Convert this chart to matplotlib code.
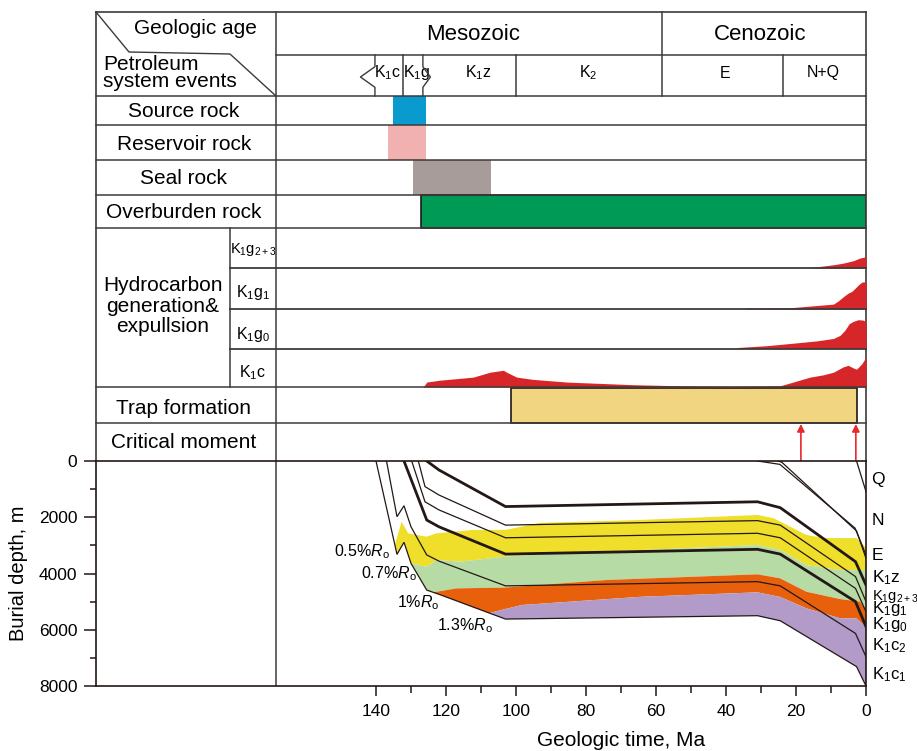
import numpy as np
import matplotlib
matplotlib.use("Agg")
import matplotlib.pyplot as plt

plt.rcParams["font.family"] = ["Liberation Sans", "DejaVu Sans"]
plt.rcParams["mathtext.fontset"] = "custom"
plt.rcParams["mathtext.rm"] = "Liberation Sans"
plt.rcParams["mathtext.it"] = "Liberation Sans:italic"
plt.rcParams["mathtext.default"] = "regular"

# ---------------- data ----------------
# era / stage boundaries (Ma)
eras = ["Mesozoic", "Cenozoic"]
era_bounds = [168.6, 58.3, 0]
stage_names = ["K$_1$c", "K$_1$g", "K$_1$z", "K$_2$", "E", "N+Q"]
stage_label_t = [136.6, 128.3, 110.7, 79.4, 40.3, 12.3]
stage_bounds = [140.3, 132.4, 126.6, 100.0, 58.3, 23.8]

# petroleum system elements (start Ma, end Ma)
source_rock = (135.1, 125.7)
reservoir_rock = (136.7, 125.7)
seal_rock = (129.5, 107.1)
overburden_rock = (127.1, 0.0)
trap_formation = (101.4, 2.5)
critical_moments = [18.6, 2.9]

# hydrocarbon generation & expulsion (fraction of row height)
gen_k1g23_t = [16, 13.1, 9.4, 6.6, 3.7, 1.7, 0]
gen_k1g23_v = [0, 0.04, 0.08, 0.12, 0.18, 0.25, 0.28]
gen_k1g1_t = [34.6, 21.7, 9.3, 7.9, 6.5, 5.1, 4.1, 3.1, 2.2, 1.2, 0]
gen_k1g1_v = [0.02, 0.03, 0.12, 0.2, 0.3, 0.39, 0.43, 0.51, 0.59, 0.66, 0.67]
gen_k1g0_t = [36.7, 28.4, 21.7, 14.1, 9.3, 7.4, 6.0, 4.8, 3.6, 2.2, 0.8, 0]
gen_k1g0_v = [0.025, 0.07, 0.125, 0.19, 0.25, 0.33, 0.46, 0.62, 0.68, 0.72, 0.71, 0.67]
gen_k1c_t = [126.5, 125.5, 121.7, 116.9, 112.2, 107.4, 103.6, 102.7, 99.8, 95.1, 85.5,
             66.5, 52.2, 38, 24.6, 20.8, 16, 12.2, 9.3, 6.5, 5.1, 3.6, 2.7, 1.2, 0]
gen_k1c_v = [0, 0.13, 0.18, 0.22, 0.26, 0.39, 0.44, 0.39, 0.26, 0.2, 0.13,
             0.06, 0.03, 0.02, 0.03, 0.13, 0.26, 0.32, 0.39, 0.53, 0.57, 0.5, 0.47, 0.61, 0.79]

# burial history surfaces (Ma, m)
k1c1_t = [140, 134, 132, 130, 125.5, 122, 103, 31, 24.5, 2.7, 0]
k1c1_d = [0, 3320, 2890, 3640, 4590, 4740, 5620, 5500, 5680, 7310, 8000]
k1c2_t = [137, 134, 132, 130, 125.5, 122, 103, 31, 24.5, 3, 0]
k1c2_d = [0, 1980, 1590, 2340, 3340, 3560, 4440, 4290, 4440, 6130, 6960]
k1g0_t = [132, 125.5, 122, 103, 31, 24.5, 3, 0]
k1g0_d = [0, 2100, 2340, 3310, 3140, 3310, 5000, 5890]
k1g1_t = [129.8, 126, 122, 103, 31, 24.5, 3, 0]
k1g1_d = [0, 1450, 1740, 2730, 2570, 2730, 4530, 5360]
k1g23_t = [127.9, 126, 122, 103, 31, 24.5, 3, 0]
k1g23_d = [0, 910, 1210, 2280, 2120, 2280, 4110, 5000]
k1z_t = [125.5, 122, 103, 31, 24.5, 3, 0]
k1z_d = [0, 320, 1620, 1450, 1660, 3580, 4410]
e_t = [31, 24.6, 3.1, 0]
e_d = [0, 120, 2390, 3340]
e2_t = [25, 24, 2.7, 0]
e2_d = [0, 50, 2490, 3460]
n_t = [2.7, 0]
n_d = [0, 1090]

# vitrinite reflectance isolines (Ma, m)
ro05_t = [134.6, 132.7, 130.8, 128.4, 125.5, 122.7, 112, 103, 93, 65, 31, 26.5, 17, 12, 2.7, 0]
ro05_d = [2990, 2160, 2570, 2630, 2690, 2570, 2450, 2450, 2200, 2100, 1920, 2030, 2630, 2740, 2740, 3080]
ro07_t = [130, 125.5, 122.7, 116, 103, 93, 31, 24.6, 17, 7.4, 0]
ro07_d = [3640, 3760, 3520, 3580, 3400, 3320, 2990, 3160, 3700, 3880, 3880]
ro10_t = [123.7, 117, 103, 74, 31, 24.6, 17, 7.4, 1.7, 0]
ro10_d = [4670, 4530, 4500, 4230, 4030, 4170, 4650, 4910, 5000, 5300]
ro13_t = [107.7, 103, 98.3, 64.6, 31, 24.6, 17, 7.4, 2.7, 0]
ro13_d = [5410, 5260, 5120, 4830, 4670, 4830, 5240, 5590, 5600, 5900]

strat_labels = ["Q", "N", "E", "K$_1$z", "K$_1$g$_{2+3}$", "K$_1$g$_1$", "K$_1$g$_0$",
                "K$_1$c$_2$", "K$_1$c$_1$"]
strat_label_d = [650, 2120, 3370, 4140, 4830, 5260, 5830, 6570, 7610]

# ---------------- layout ----------------
W, H = 917, 751
LC = "#3e3a39"
DK = "#231815"
RED = "#d7262a"


def box(x0, y0, x1, y1):
    return [x0 / W, 1 - y1 / H, (x1 - x0) / W, (y1 - y0) / H]


def tp(x):
    # pixel column -> time (Ma) for layout decorations
    return (866 - x) / 3.5


fig = plt.figure(figsize=(W / 100, H / 100), dpi=100)
ax_t = fig.add_axes(box(96, 12, 866, 461))
ax_b = fig.add_axes(box(96, 461, 866, 686))
for a in (ax_t, ax_b):
    a.set_xlim(tp(96), 0)

# ---------- table part ----------
ax_t.set_ylim(461, 12)
ax_t.set_xticks([])
ax_t.set_yticks([])
ax_t.spines["bottom"].set_visible(False)
for s in ("left", "right", "top"):
    ax_t.spines[s].set_color(LC)
    ax_t.spines[s].set_linewidth(1.2)


def hline(y, x0, x1, lw=1.1):
    ax_t.plot([tp(x0), tp(x1)], [y, y], color=LC, lw=lw, clip_on=False, zorder=5)


def vline(x, y0, y1, lw=1.1):
    ax_t.plot([tp(x), tp(x)], [y0, y1], color=LC, lw=lw, clip_on=False, zorder=5)


for y in [96, 125, 160, 195, 228, 387, 423]:
    hline(y, 96, 866)
hline(55, 276, 866)
for y in [268, 309, 349]:
    hline(y, 230, 866, lw=1.3)
vline(276, 12, 461)
vline(230, 228, 387)
vline(866 - era_bounds[1] * 3.5, 12, 96)
# stage dividers
for b in [stage_bounds[1], stage_bounds[3], stage_bounds[5]]:
    vline(866 - b * 3.5, 55, 96)
# bracket boundaries of K1c and K1g
x0 = 866 - stage_bounds[0] * 3.5
ax_t.plot([tp(x0), tp(x0), tp(x0 - 14.5), tp(x0), tp(x0)], [55, 66.7, 77, 87.3, 96],
          color=LC, lw=1.0, zorder=5)
x2 = 866 - stage_bounds[2] * 3.5
ax_t.plot([tp(x2), tp(x2), tp(x2 + 7.5), tp(x2), tp(x2)], [55, 66.7, 77, 87.3, 96],
          color=LC, lw=1.0, zorder=5)
# header diagonal
ax_t.plot([tp(96), tp(129), tp(230), tp(276)], [12, 52, 54, 96], color=LC, lw=1.0,
          clip_on=False)

ax_t.text(tp(195), 29, "Geologic age", ha="center", va="center", fontsize=15)
ax_t.text(tp(103), 73, "Petroleum\nsystem events", ha="left", va="center", fontsize=15,
          linespacing=0.85)
era_x = [473, 760]
for name, xx in zip(eras, era_x):
    ax_t.text(tp(xx), 34, name, ha="center", va="center", fontsize=16)
for name, t in zip(stage_names, stage_label_t):
    ax_t.text(t, 73, name, ha="center", va="center", fontsize=11.5)

row_labels = ["Source rock", "Reservoir rock", "Seal rock", "Overburden rock",
              "Trap formation", "Critical moment"]
row_y = [111.5, 144, 178, 212, 408.5, 443]
for lab, y in zip(row_labels, row_y):
    ax_t.text(tp(184), y, lab, ha="center", va="center", fontsize=15)
ax_t.text(tp(163), 306, "Hydrocarbon\ngeneration&\nexpullsion", ha="center", va="center",
          fontsize=15, linespacing=1.1)
gen_labels = ["K$_1$g$_{2+3}$", "K$_1$g$_1$", "K$_1$g$_0$", "K$_1$c"]
gen_label_y = [250, 293, 334, 373]
gen_label_fs = [10.5, 11.5, 11.5, 11.5]
for lab, y, fs in zip(gen_labels, gen_label_y, gen_label_fs):
    ax_t.text(tp(253), y, lab, ha="center", va="center", fontsize=fs)

# element bars
ax_t.barh(110.5, source_rock[0] - source_rock[1], left=source_rock[1], height=29,
          color="#0a9bce", zorder=2)
ax_t.barh(142.5, reservoir_rock[0] - reservoir_rock[1], left=reservoir_rock[1], height=35,
          color="#f1b1b0", zorder=2)
ax_t.barh(177.5, seal_rock[0] - seal_rock[1], left=seal_rock[1], height=35,
          color="#a89c9a", zorder=2)
ax_t.barh(211.5, overburden_rock[0] - overburden_rock[1], left=overburden_rock[1],
          height=33, color="#009a57", edgecolor=DK, lw=1.2, zorder=2)
ax_t.barh(405.5, trap_formation[0] - trap_formation[1], left=trap_formation[1], height=35,
          color="#f2d580", edgecolor=DK, lw=1.2, zorder=2)
for t in critical_moments:
    ax_t.annotate("", xy=(t, 424), xytext=(t, 461),
                  arrowprops=dict(arrowstyle="-|>", color="#e8292b", lw=1.2,
                                  mutation_scale=11, shrinkA=0, shrinkB=0))

# generation curves
gen_rows = [(268, 40, gen_k1g23_t, gen_k1g23_v), (309, 40.7, gen_k1g1_t, gen_k1g1_v),
            (348.5, 40, gen_k1g0_t, gen_k1g0_v), (387, 38, gen_k1c_t, gen_k1c_v)]
for base, h, t, v in gen_rows:
    v = np.array(v)
    ax_t.fill_between(t, base, base - v * h, color=RED, lw=0, zorder=3)

# ---------- burial history ----------
ax_b.set_ylim(8000, 0)


def zone(tu, du, tl, dl):
    tb = np.array(k1c1_t)
    db = np.array(k1c1_d)
    m = (tb > tl[0]) & (tb < tu[0])
    pt = list(tu) + list(tl[::-1]) + list(tb[m][::-1])
    pd = list(du) + list(dl[::-1]) + list(db[m][::-1])
    return pt, pd


zones = [(ro05_t, ro05_d, ro07_t, ro07_d, "#efdf2a"),
         (ro07_t, ro07_d, ro10_t, ro10_d, "#b6dba5"),
         (ro10_t, ro10_d, ro13_t, ro13_d, "#e8600c")]
for tu, du, tl, dl, c in zones:
    pt, pd = zone(tu, du, tl, dl)
    ax_b.fill(pt, pd, color=c, lw=0, zorder=1)
tb = np.array(k1c1_t)
db = np.array(k1c1_d)
m = tb < ro13_t[0]
ax_b.fill(list(ro13_t) + list(tb[m][::-1]), list(ro13_d) + list(db[m][::-1]),
          color="#b29ac9", lw=0, zorder=1)

thin = 0.9
thick = 2.0
for t, d, w in [(k1c1_t, k1c1_d, thin), (k1c2_t, k1c2_d, thin), (k1g0_t, k1g0_d, thick),
                (k1g1_t, k1g1_d, thin), (k1g23_t, k1g23_d, thin), (k1z_t, k1z_d, thick),
                (e_t, e_d, thin), (e2_t, e2_d, thin), (n_t, n_d, thin)]:
    ax_b.plot(t, d, color=DK, lw=w, zorder=3, solid_joinstyle="miter")

ax_b.axvline(tp(276), color=LC, lw=1.1)

ro_labels = ["0.5%$\\mathit{R}_o$", "0.7%$\\mathit{R}_o$", "1%$\\mathit{R}_o$",
             "1.3%$\\mathit{R}_o$"]
ro_label_pos = [(136, 3225), (128.4, 3990), (122, 5020), (106.6, 5860)]
for lab, (t, d) in zip(ro_labels, ro_label_pos):
    ax_b.text(t, d, lab, ha="right", va="center", fontsize=11.5, zorder=4)

strat_fs = [12.5, 12.5, 12.5, 12.5, 10.5, 12, 12, 12, 12]
for lab, d, fs in zip(strat_labels, strat_label_d, strat_fs):
    ax_b.text(-1.6, d, lab, ha="left", va="center", fontsize=fs, clip_on=False)

for s in ax_b.spines.values():
    s.set_color(DK)
    s.set_linewidth(1.2)
ax_b.set_xticks(np.arange(140, -1, -20))
ax_b.set_xticks(np.arange(130, 0, -20), minor=True)
ax_b.set_yticks(np.arange(0, 8001, 2000))
ax_b.set_yticks(np.arange(1000, 8000, 2000), minor=True)
ax_b.tick_params(axis="x", which="major", length=7, width=1.1, color=DK, pad=6,
                 labelsize=12.5)
ax_b.tick_params(axis="x", which="minor", length=5, width=1.1, color=DK)
ax_b.tick_params(axis="y", which="major", length=8.5, width=1.1, color=DK, pad=5,
                 labelsize=12.5)
ax_b.tick_params(axis="y", which="minor", length=4.5, width=1.1, color=DK)

ax_b.text((621 - 96) / 770, (686 - 741) / 225, "Geologic time, Ma", transform=ax_b.transAxes,
          ha="center", va="center", fontsize=15)
ax_b.text((18.5 - 96) / 770, (686 - 573) / 225, "Burial depth, m", transform=ax_b.transAxes,
          ha="center", va="center", rotation=90, fontsize=14.5)

fig.savefig("out.png", dpi=100)
